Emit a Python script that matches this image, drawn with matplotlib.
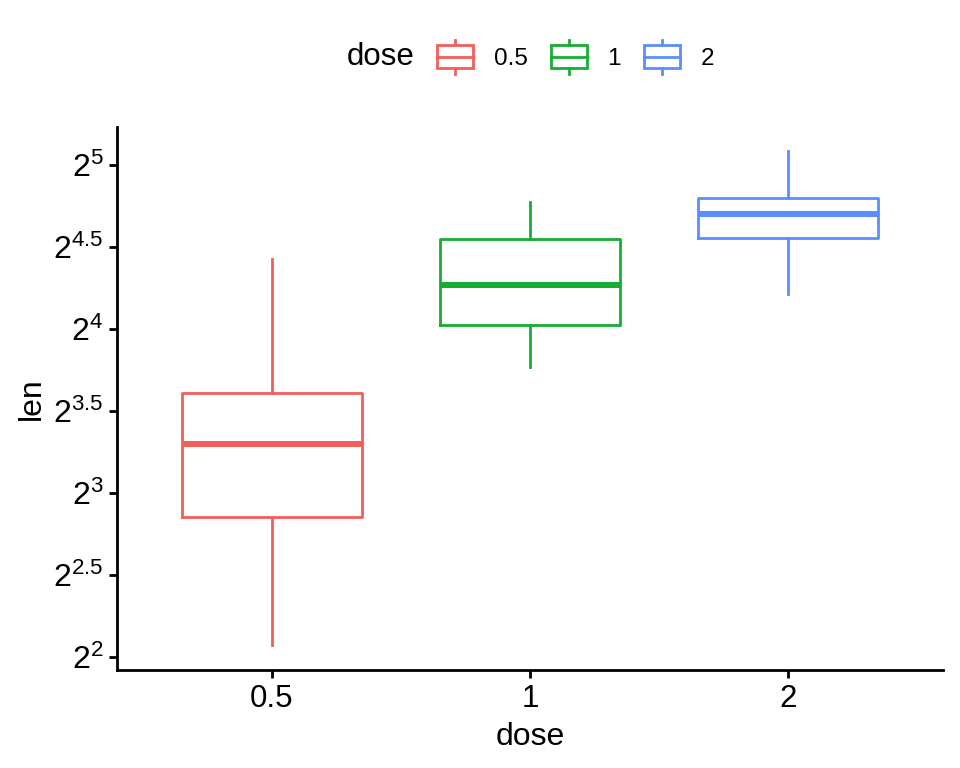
import numpy as np
import matplotlib.pyplot as plt
from matplotlib.patches import Rectangle
from matplotlib.lines import Line2D
from matplotlib.legend_handler import HandlerBase

plt.rcParams['font.family'] = ['Liberation Sans', 'DejaVu Sans']
plt.rcParams['mathtext.fontset'] = 'custom'
plt.rcParams['mathtext.rm'] = 'Liberation Sans'
plt.rcParams['mathtext.it'] = 'Liberation Sans:italic'

# ToothGrowth, len by dose
doses = ["0.5", "1", "2"]
colors = ["#F35E5A", "#17AC33", "#5A8DFF"]
len_d05 = [4.2, 11.5, 7.3, 5.8, 6.4, 10, 11.2, 11.2, 5.2, 7,
           15.2, 21.5, 17.6, 9.7, 14.5, 10, 8.2, 9.4, 16.5, 9.7]
len_d1 = [16.5, 16.5, 15.2, 17.3, 22.5, 17.3, 13.6, 14.5, 18.8, 15.5,
          19.7, 23.3, 23.6, 26.4, 20, 25.2, 25.8, 21.2, 14.5, 27.3]
len_d2 = [23.6, 18.5, 33.9, 25.5, 26.4, 32.5, 26.7, 21.5, 23.3, 29.5,
          25.5, 26.4, 22.4, 24.5, 24.8, 30.9, 26.4, 27.3, 29.4, 23]
ytick_exps = [2, 2.5, 3, 3.5, 4, 4.5, 5]

# log2 scale like scale_y_continuous(trans="log2")
data = [np.log2(v) for v in (len_d05, len_d1, len_d2)]
pos = np.arange(1, len(doses) + 1)

fig = plt.figure(figsize=(9.6, 7.68), dpi=100)
ax = fig.add_axes([0.122, 0.1276, 0.860, 0.707])

bp = ax.boxplot(data, positions=pos, widths=0.7, whis=1.5, showcaps=False,
                patch_artist=False)
for i, c in enumerate(colors):
    bp['boxes'][i].set(color=c, linewidth=2)
    bp['medians'][i].set(color=c, linewidth=4.3, solid_capstyle='butt')
    bp['whiskers'][2 * i].set(color=c, linewidth=2)
    bp['whiskers'][2 * i + 1].set(color=c, linewidth=2)
    bp['fliers'][i].set(markeredgecolor=c, marker='o')

ax.set_xlim(0.4, 3.6)
ax.set_ylim(1.92, 5.23)
ax.set_xticks(pos)
ax.set_xticklabels(doses)
ax.set_yticks(ytick_exps)
ax.set_yticklabels([r'$\mathregular{2^{%g}}$' % e for e in ytick_exps])
ax.tick_params(labelsize=22.5, length=6, width=2, color='black', pad=4)
ax.tick_params(axis='y', labelsize=23)
for s in ['top', 'right']:
    ax.spines[s].set_visible(False)
for s in ['left', 'bottom']:
    ax.spines[s].set_linewidth(2)
ax.set_xlabel('dose', fontsize=23, labelpad=6)
ax.set_ylabel('len', fontsize=23, labelpad=4)


class BoxKey(HandlerBase):
    def create_artists(self, legend, orig_handle, xdescent, ydescent,
                       width, height, fontsize, trans):
        c = orig_handle.get_color()
        x0, y0 = -xdescent, -ydescent
        box = Rectangle((x0, y0 + height * 0.16), width, height * 0.68,
                        fill=False, edgecolor=c, lw=2, transform=trans)
        mid = Line2D([x0, x0 + width], [y0 + height / 2] * 2, color=c,
                     lw=2, transform=trans)
        up = Line2D([x0 + width / 2] * 2, [y0 + height * 0.84, y0 + height],
                    color=c, lw=2, transform=trans)
        dn = Line2D([x0 + width / 2] * 2, [y0, y0 + height * 0.16],
                    color=c, lw=2, transform=trans)
        return [box, mid, up, dn]


handles = [Line2D([], [], color=c) for c in colors]
fig.text(347 / 960, 0.926, 'dose', fontsize=22.5, va='center', ha='left')
fig.legend(handles, doses, handler_map={Line2D: BoxKey()},
           loc='center left', bbox_to_anchor=(437 / 960, 0.926), ncol=3,
           frameon=False, fontsize=17.5, handlelength=1.48,
           handleheight=1.75, handletextpad=0.85, columnspacing=0.95,
           borderpad=0, borderaxespad=0)

fig.savefig('out.png', dpi=100)
